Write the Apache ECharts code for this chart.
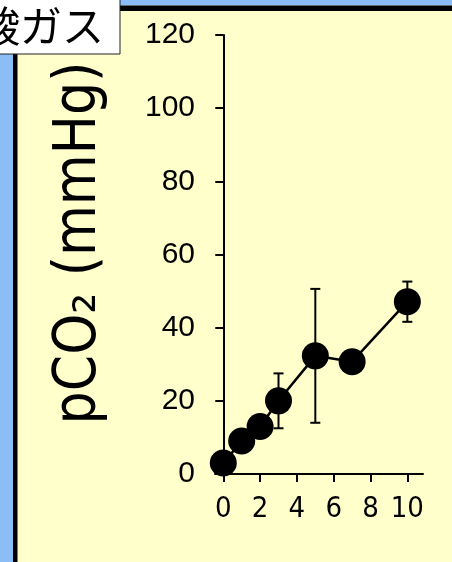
<!DOCTYPE html>
<html>
<head>
<meta charset="utf-8">
<script src="https://cdn.jsdelivr.net/npm/echarts@6/dist/echarts.min.js"></script>
<style>
  html, body { margin: 0; padding: 0; }
  #chart { width: 452px; height: 562px; }
</style>
</head>
<body>
<div id="chart"></div>
<script>
// time points and mean pCO2 values
const xValues = [0, 1, 2, 3, 5, 7, 10]
const pco2 = [3, 9, 13, 20, 32.3, 30.7, 47.1]
// error bar half widths (0 = none shown)
const errors = [0, 0, 0, 7.5, 18.3, 0, 5.5]
const xTicks = [0, 2, 4, 6, 8, 10]

const yellow = '#FFFFCC'
const blue = '#8BBDF7'

const chart = echarts.init(document.getElementById('chart'))

const lineData = xValues.map((x, i) => [x, pco2[i]])
const errData = []
for (let i = 0; i < xValues.length; i++) {
  if (errors[i] > 0) {
    errData.push([xValues[i], pco2[i] - errors[i], pco2[i] + errors[i]])
  }
}

const option = {
  backgroundColor: yellow,
  animation: false,
  graphic: [
    // frame: blue strips and black edges
    { type: 'rect', z: 10, shape: { x: 0, y: 0, width: 452, height: 5.5 }, style: { fill: blue } },
    { type: 'rect', z: 10, shape: { x: 0, y: 5.5, width: 452, height: 5.5 }, style: { fill: '#000' } },
    { type: 'rect', z: 10, shape: { x: 0, y: 0, width: 13, height: 562 }, style: { fill: blue } },
    { type: 'rect', z: 10, shape: { x: 13, y: 5.5, width: 4.5, height: 562 }, style: { fill: '#000' } },
    // title box in the corner
    {
      type: 'rect', z: 11,
      shape: { x: -2, y: -2, width: 122, height: 56 },
      style: { fill: '#fff', stroke: '#222', lineWidth: 1 }
    },
    {
      type: 'text', z: 12, x: 104, y: 26,
      style: {
        text: '炭酸ガス',
        align: 'right',
        verticalAlign: 'middle',
        fill: '#000',
        fontSize: 42,
        fontFamily: 'Noto Sans CJK JP'
      }
    },
    // y axis title
    {
      type: 'text', z: 12, x: 80, y: 243, rotation: Math.PI / 2,
      style: {
        text: 'pCO₂ (mmHg)',
        align: 'center',
        verticalAlign: 'middle',
        fill: '#000',
        fontSize: 58,
        fontFamily: 'DejaVu Sans Condensed'
      }
    }
  ],
  grid: {
    left: 215,
    right: 29,
    top: 35,
    bottom: 88
  },
  xAxis: {
    type: 'value',
    min: -0.45,
    max: 10.85,
    splitLine: { show: false },
    axisLine: { lineStyle: { color: '#000', width: 2 } },
    axisTick: {
      length: 8,
      customValues: xTicks,
      lineStyle: { color: '#000', width: 2 }
    },
    axisLabel: {
      customValues: xTicks,
      margin: 21,
      color: '#000',
      fontSize: 29,
      fontFamily: 'DejaVu Sans Condensed'
    }
  },
  yAxis: {
    type: 'value',
    min: 0,
    max: 120,
    interval: 20,
    splitLine: { show: false },
    axisLine: { onZero: true, lineStyle: { color: '#000', width: 2 } },
    axisTick: { length: 8, lineStyle: { color: '#000', width: 2 } },
    axisLabel: {
      margin: 20,
      color: '#000',
      fontSize: 30,
      fontFamily: 'Liberation Sans'
    }
  },
  series: [
    {
      type: 'custom',
      z: 1,
      data: errData,
      renderItem: function (params, api) {
        const top = api.coord([api.value(0), api.value(2)])
        const bot = api.coord([api.value(0), api.value(1)])
        const cap = 5
        const st = { stroke: '#000', lineWidth: 2 }
        return {
          type: 'group',
          children: [
            { type: 'line', shape: { x1: top[0], y1: top[1], x2: bot[0], y2: bot[1] }, style: st },
            { type: 'line', shape: { x1: top[0] - cap, y1: top[1], x2: top[0] + cap, y2: top[1] }, style: st },
            { type: 'line', shape: { x1: bot[0] - cap, y1: bot[1], x2: bot[0] + cap, y2: bot[1] }, style: st }
          ]
        }
      }
    },
    {
      type: 'line',
      z: 3,
      data: lineData,
      symbol: 'circle',
      symbolSize: 27,
      clip: false,
      itemStyle: { color: '#000' },
      lineStyle: { color: '#000', width: 2.5 }
    }
  ]
}

chart.setOption(option)
</script>
</body>
</html>
